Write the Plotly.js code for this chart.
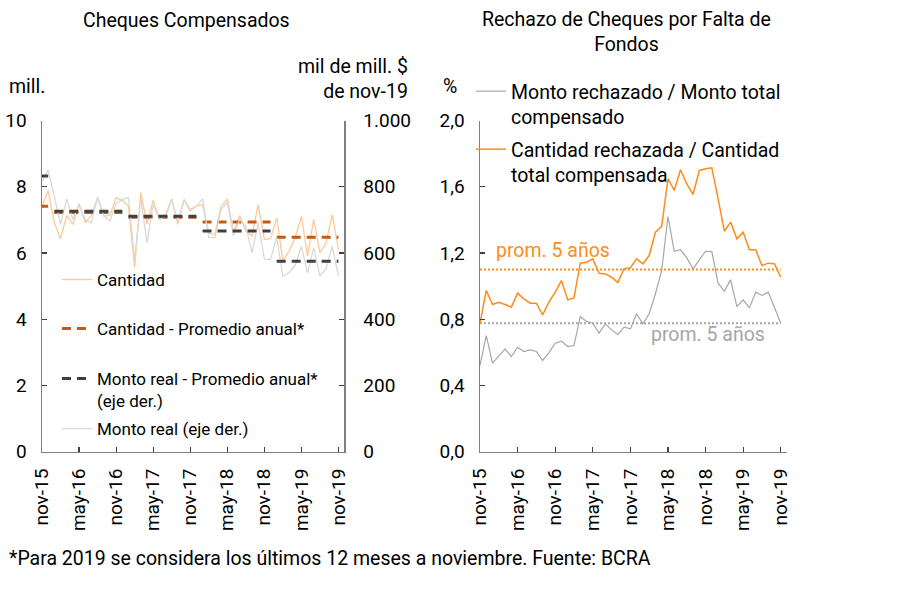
<!DOCTYPE html>
<html>
<head>
<meta charset="utf-8">
<script src="https://cdn.plot.ly/plotly-3.0.1.min.js"></script>
<style>html,body{margin:0;padding:0;background:#fff;}#chart{width:907px;height:605px;}</style>
</head>
<body>
<div id="chart"></div>
<script>
// ---------- DATA ----------
// monthly, nov-15 ... nov-19 (49 months)
var tickLabels = ['nov-15','may-16','nov-16','may-17','nov-17','may-18','nov-18','may-19','nov-19'];
var tickMonths = [0,6,12,18,24,30,36,42,48];

// Cheques compensados - cantidad (mill.)
var cantidad = [7.42,7.88,6.91,6.43,7.13,6.86,7.49,6.91,7.13,7.66,7.11,7.13,7.66,7.59,7.41,5.55,
  7.82,6.86,7.59,7.01,7.16,7.63,6.86,7.61,7.31,7.41,7.46,6.59,6.56,7.41,7.63,6.62,7.13,6.66,6.51,
  7.46,6.41,6.43,7.06,5.75,6.05,6.46,7.11,5.90,7.01,6.00,6.30,7.16,6.10];
// Monto real (mil de mill. $ de nov-19)
var montoReal = [816,850,770,686,763,701,745,700,691,769,713,696,749,761,768,580,
  763,630,746,701,710,761,696,761,726,741,763,646,647,731,753,652,701,680,600,
  691,582,580,646,530,540,562,620,540,615,530,552,620,530];

// Annual averages (2015, 2016, 2017, 2018, 2019*)
var yearStartMonth = [0,2,14,26,38];
var yearEndMonth   = [1,13,25,37,48];
var cantidadAvg = [7.41,7.22,7.08,6.93,6.47];
var montoAvg    = [832,726,711,666,575];

// Rechazo de cheques (%)
var montoRech = [0.52,0.70,0.534,0.574,0.62,0.574,0.63,0.604,0.614,0.604,0.55,0.598,0.654,0.667,0.634,0.640,
  0.816,0.786,0.775,0.715,0.771,0.735,0.707,0.751,0.741,0.832,0.771,0.832,0.953,1.094,1.420,1.210,
  1.219,1.170,1.104,1.158,1.210,1.208,1.017,0.969,1.037,0.876,0.916,0.868,0.963,0.943,0.963,0.87,0.775];
var cantRech = [0.775,0.973,0.888,0.902,0.888,0.872,0.957,0.922,0.896,0.896,0.826,0.902,0.963,1.033,0.916,0.928,
  1.138,1.144,1.164,1.077,1.073,1.053,1.021,1.104,1.110,1.164,1.134,1.184,1.325,1.360,1.648,1.577,
  1.702,1.617,1.553,1.698,1.708,1.714,1.527,1.331,1.386,1.285,1.325,1.219,1.219,1.124,1.138,1.134,1.053];
var promMonto5 = 0.775;
var promCant5 = 1.10;

// ---------- BUILD ----------
var W = 907, H = 605;
function px(x){return x/W;}
function py(y){return 1 - y/H;}
var months = cantidad.map(function(_,i){return i;});

function steps(vals){
  var xs=[], ys=[];
  for (var i=0;i<vals.length;i++){
    xs.push(yearStartMonth[i], yearEndMonth[i], null);
    ys.push(vals[i], vals[i], null);
  }
  return {x:xs, y:ys};
}
var sC = steps(cantidadAvg), sM = steps(montoAvg);
var lastM = months[months.length-1];

var FONT = 'Roboto, "Liberation Sans", Arial, sans-serif';
var FS = 19.5;

var traces = [
  {x:months, y:cantidad, xaxis:'x', yaxis:'y', mode:'lines', name:'Cantidad',
   line:{color:'#ffc995', width:1.3}, legend:'legend'},
  {x:months, y:montoReal, xaxis:'x', yaxis:'y2', mode:'lines', name:'Monto real (eje der.)',
   line:{color:'#d9d9d9', width:1.3}, legend:'legend4'},
  {x:sC.x, y:sC.y, xaxis:'x', yaxis:'y', mode:'lines', name:'Cantidad - Promedio anual*',
   line:{color:'#c55a11', width:3, dash:'9px,6px'}, legend:'legend2', connectgaps:false},
  {x:sM.x, y:sM.y, xaxis:'x', yaxis:'y2', mode:'lines', name:'Monto real - Promedio anual*<br>(eje der.)',
   line:{color:'#404040', width:3, dash:'9px,6px'}, legend:'legend3', connectgaps:false},
  {x:[0,lastM], y:[promMonto5,promMonto5], xaxis:'x2', yaxis:'y3', mode:'lines', showlegend:false,
   line:{color:'#a6a6a6', width:2, dash:'2px,2px'}},
  {x:[0,lastM], y:[promCant5,promCant5], xaxis:'x2', yaxis:'y3', mode:'lines', showlegend:false,
   line:{color:'#ff8c1a', width:2, dash:'2px,2px'}},
  {x:months, y:montoRech, xaxis:'x2', yaxis:'y3', mode:'lines', name:'Monto rechazado / Monto total<br>compensado',
   line:{color:'#a6a6a6', width:1.2}, legend:'legend5'},
  {x:months, y:cantRech, xaxis:'x2', yaxis:'y3', mode:'lines', name:'Cantidad rechazada / Cantidad<br>total compensada',
   line:{color:'#ff8c1a', width:1.5}, legend:'legend6'}
];

var axisCommon = {showline:true, linecolor:'#808080', linewidth:1.5, ticks:'inside', ticklen:5,
  tickcolor:'#404040', tickwidth:1.2, showgrid:false, zeroline:false, tickfont:{size:19, color:'#000'}, fixedrange:true};
function ax(o){var r={}; for (var k in axisCommon) r[k]=axisCommon[k]; for (var k2 in o) r[k2]=o[k2]; return r;}

var yDom = [py(451.5), py(120.5)];
function leg(xpx, ytop, fs){
  return {x:px(xpx), y:py(ytop), xanchor:'left', yanchor:'top', bgcolor:'rgba(0,0,0,0)',
    font:{size:fs, color:'#000', family:FONT}, valign:'top', itemwidth:30, borderwidth:0};
}

var layout = {
  width:W, height:H, margin:{l:0,r:0,t:0,b:0}, paper_bgcolor:'#fff', plot_bgcolor:'rgba(0,0,0,0)',
  font:{family:FONT, size:FS, color:'#000'}, separators:',.', showlegend:true,
  xaxis: ax({domain:[px(42), px(344)], range:[0,48.9], anchor:'y', tickvals:tickMonths, ticktext:tickLabels,
    tickangle:-90, ticklabelstandoff:8}),
  yaxis: ax({domain:yDom, range:[0,10], dtick:2, anchor:'x', ticklabelstandoff:10}),
  yaxis2: ax({domain:yDom, range:[0,1000], dtick:200, overlaying:'y', side:'right', anchor:'x',
    separatethousands:true, tickformat:',d', ticklabelstandoff:14}),
  xaxis2: ax({domain:[px(480), px(786.7)], range:[0,48.95], anchor:'y3', tickvals:tickMonths, ticktext:tickLabels,
    tickangle:-90, ticklabelstandoff:8}),
  yaxis3: ax({domain:yDom, range:[0,2], dtick:0.4, tickformat:'.1f', anchor:'x2', ticklabelstandoff:10}),
  legend: leg(57, 262, 17),
  legend2: leg(57, 311, 17),
  legend3: leg(57, 361, 17),
  legend4: leg(57, 411, 17),
  legend5: leg(471, 72, FS),
  legend6: leg(471, 130, FS),
  annotations: [
    {text:'Cheques Compensados', x:px(186), y:py(20), xref:'paper', yref:'paper', showarrow:false, xanchor:'center', yanchor:'middle', font:{size:FS}},
    {text:'Rechazo de Cheques por Falta de<br>Fondos', x:px(626), y:py(32), xref:'paper', yref:'paper', showarrow:false, xanchor:'center', yanchor:'middle', font:{size:FS}},
    {text:'mill.', x:px(7), y:py(87), xref:'paper', yref:'paper', showarrow:false, xanchor:'left', yanchor:'middle', font:{size:FS}},
    {text:'mil de mill. $<br>de nov-19', x:px(410), y:py(79), xref:'paper', yref:'paper', showarrow:false, xanchor:'right', yanchor:'middle', align:'right', font:{size:FS}},
    {text:'%', x:px(450), y:py(86), xref:'paper', yref:'paper', showarrow:false, xanchor:'center', yanchor:'middle', font:{size:FS}},
    {text:'prom. 5 años', x:2.3, y:1.215, xref:'x2', yref:'y3', showarrow:false, xanchor:'left', yanchor:'middle', font:{size:FS, color:'#ff8c1a'}},
    {text:'prom. 5 años', x:27.0, y:0.707, xref:'x2', yref:'y3', showarrow:false, xanchor:'left', yanchor:'middle', font:{size:FS, color:'#a6a6a6'}},
    {text:'*Para 2019 se considera los últimos 12 meses a noviembre. Fuente: BCRA', x:px(7), y:py(558), xref:'paper', yref:'paper', showarrow:false, xanchor:'left', yanchor:'middle', font:{size:FS}}
  ]
};

Plotly.newPlot('chart', traces, layout, {staticPlot:true, displayModeBar:false});
</script>
</body>
</html>
